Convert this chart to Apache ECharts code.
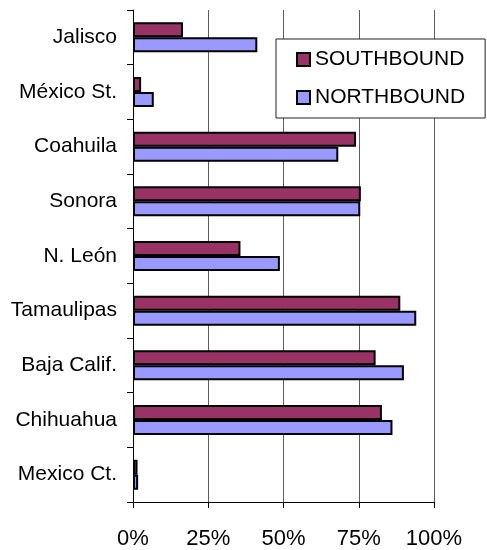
<!DOCTYPE html>
<html>
<head>
<meta charset="utf-8">
<script src="https://cdn.jsdelivr.net/npm/echarts@6/dist/echarts.min.js"></script>
<style>
html,body{margin:0;padding:0;background:#fff;}
#chart{width:487px;height:550px;}
</style>
</head>
<body>
<div id="chart"></div>
<script>
var categories = ['Jalisco', 'México St.', 'Coahuila', 'Sonora', 'N. León', 'Tamaulipas', 'Baja Calif.', 'Chihuahua', 'Mexico Ct.'];
var southbound = [16.6, 2.7, 74.1, 75.7, 35.7, 88.8, 80.6, 82.7, 1.5];
var northbound = [41.3, 6.9, 68.2, 75.5, 48.8, 94.1, 90.0, 86.2, 1.7];
var xTicks = [0, 25, 50, 75, 100];

var font = 'Liberation Sans, Arial, sans-serif';
var chart = echarts.init(document.getElementById('chart'), null, {renderer: 'canvas'});
chart.setOption({
  animation: false,
  backgroundColor: '#fff',
  grid: {left: 133, right: 53, top: 10, bottom: 45, containLabel: false},
  legend: {
    left: 276, top: 39,
    orient: 'vertical',
    padding: [10, 20, 10, 20],
    itemGap: 17,
    itemWidth: 13, itemHeight: 13,
    itemTextGap: 5,
    borderColor: '#222', borderWidth: 1,
    backgroundColor: '#fff',
    icon: 'rect',
    textStyle: {fontFamily: font, fontSize: 21, color: '#000', lineHeight: 21},
    data: ['SOUTHBOUND', 'NORTHBOUND']
  },
  xAxis: {
    type: 'value', min: xTicks[0], max: xTicks[xTicks.length - 1], interval: 25,
    axisLine: {show: true, lineStyle: {color: '#000', width: 1}},
    axisTick: {show: true, length: 6, lineStyle: {color: '#000'}},
    splitLine: {show: true, lineStyle: {color: '#5e5e5e', width: 1}},
    axisLabel: {fontFamily: font, fontSize: 22, color: '#000', margin: 26, formatter: '{value}%'}
  },
  yAxis: {
    type: 'category', inverse: true, data: categories,
    axisLine: {show: true, lineStyle: {color: '#000', width: 1}},
    axisTick: {show: true, length: 6, lineStyle: {color: '#000'}},
    axisLabel: {fontFamily: font, fontSize: 21, color: '#000', margin: 16}
  },
  series: [
    {name: 'SOUTHBOUND', type: 'bar', data: southbound, barWidth: 15, barGap: '0%',
     itemStyle: {color: '#993366', borderColor: '#000', borderWidth: 2}},
    {name: 'NORTHBOUND', type: 'bar', data: northbound, barWidth: 15, barGap: '0%',
     itemStyle: {color: '#9999FF', borderColor: '#000', borderWidth: 2}}
  ]
});
</script>
</body>
</html>
